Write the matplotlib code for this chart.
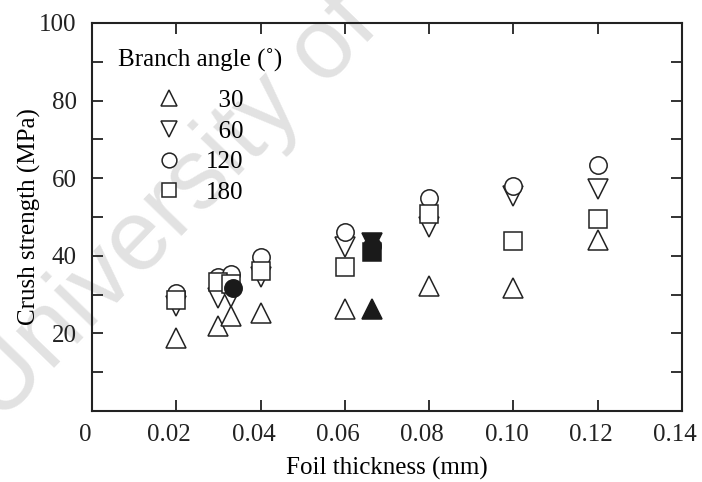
import matplotlib
matplotlib.use("Agg")
import matplotlib.pyplot as plt
import matplotlib.transforms as mtransforms
from matplotlib.ticker import MultipleLocator, FuncFormatter

plt.rcParams['font.family'] = ['Liberation Serif', 'DejaVu Serif']
plt.rcParams['font.size'] = 18

# Crush strength (MPa) against foil thickness (mm), one series per branch angle
x_30 = [0.02, 0.03, 0.033, 0.04, 0.06, 0.08, 0.10, 0.12]
y_30 = [18.7, 21.8, 24.4, 25.2, 26.4, 32.2, 31.8, 44.2]

x_60 = [0.02, 0.03, 0.033, 0.04, 0.06, 0.08, 0.10, 0.12]
y_60 = [27.0, 29.0, 29.5, 34.5, 42.3, 47.3, 55.3, 57.3]

x_120 = [0.02, 0.03, 0.033, 0.04, 0.06, 0.08, 0.10, 0.12]
y_120 = [30.5, 34.6, 35.4, 39.8, 46.2, 55.0, 58.1, 63.5]

x_180 = [0.02, 0.03, 0.033, 0.04, 0.06, 0.08, 0.10, 0.12]
y_180 = [28.5, 33.2, 32.8, 36.2, 37.2, 50.9, 43.9, 49.6]

# solid symbols
xf_60, yf_60 = [0.0665], [43.4]
xf_120, yf_120 = [0.0335, 0.0665], [31.8, 42.6]
xf_180, yf_180 = [0.0665], [41.0]
xf_30, yf_30 = [0.0665], [26.4]

angle_labels = ['\u200730', '\u200760', '120', '180']

fig = plt.figure(figsize=(7.02, 4.82), dpi=100)
ax = fig.add_axes([0.1311, 0.1473, 0.8405, 0.805])

fig.text(0.0, 0.12, 'University of Cambridge', rotation=46, rotation_mode='anchor',
         ha='left', va='baseline', fontsize=72, color='#e2e2e2',
         family='Liberation Sans', zorder=-5)
ax.set_facecolor('none')

ms = 12.5
mew = 1.1
kw = dict(linestyle='none', color='#222222', markerfacecolor='white', markeredgewidth=mew)
h30, = ax.plot(x_30, y_30, marker='^', markersize=ms + 1.5, **kw)
h60, = ax.plot(x_60, y_60, marker='v', markersize=ms + 1.5, **kw)
h120, = ax.plot(x_120, y_120, marker='o', markersize=ms, **kw)
h180, = ax.plot(x_180, y_180, marker='s', markersize=ms, **kw)

fk = dict(linestyle='none', color='#1a1a1a', markeredgewidth=mew)
ax.plot(xf_120, yf_120, marker='o', markersize=ms, **fk)
ax.plot(xf_180, yf_180, marker='s', markersize=ms, **fk)
ax.plot(xf_60, yf_60, marker='v', markersize=ms + 1.5, **fk)
ax.plot(xf_30, yf_30, marker='^', markersize=ms + 1.5, **fk)

ax.set_xlim(0, 0.14)
ax.set_ylim(0, 100)
ax.xaxis.set_major_locator(MultipleLocator(0.02))
ax.yaxis.set_major_locator(MultipleLocator(10))
ax.xaxis.set_major_formatter(FuncFormatter(lambda v, p: '0' if abs(v) < 1e-9 else '%.2f' % v))
ax.yaxis.set_major_formatter(FuncFormatter(lambda v, p: '%d' % v if int(round(v)) % 20 == 0 and v > 0 else ''))
ax.tick_params(direction='in', length=8, width=1.3, top=True, right=True, colors='#222222')
ax.tick_params(axis='x', pad=9)
ax.tick_params(axis='y', pad=11)
for s in ax.spines.values():
    s.set_linewidth(1.5)
    s.set_color('#222222')

# nudge the x tick labels a little to the left
shift = mtransforms.ScaledTranslation(-7 / 100, 0, fig.dpi_scale_trans)
for lab in ax.get_xticklabels():
    lab.set_transform(lab.get_transform() + shift)

ax.set_xlabel('Foil thickness (mm)', labelpad=8)
ax.set_ylabel('Crush strength (MPa)', labelpad=-1)

leg = ax.legend([h30, h60, h120, h180], angle_labels, title='Branch angle (\u02da)',
                loc='upper left', bbox_to_anchor=(0.01, 0.962), frameon=False,
                markerscale=0.85, handlelength=1.0, handletextpad=1.0,
                labelspacing=0.33, borderpad=0.3, title_fontsize=18)
# keep the title where it is but open up the gap below it
title = leg.get_title()
title.set_transform(title.get_transform() +
                    mtransforms.ScaledTranslation(0, 9 / 100, fig.dpi_scale_trans))

fig.savefig('out.png', dpi=100)
